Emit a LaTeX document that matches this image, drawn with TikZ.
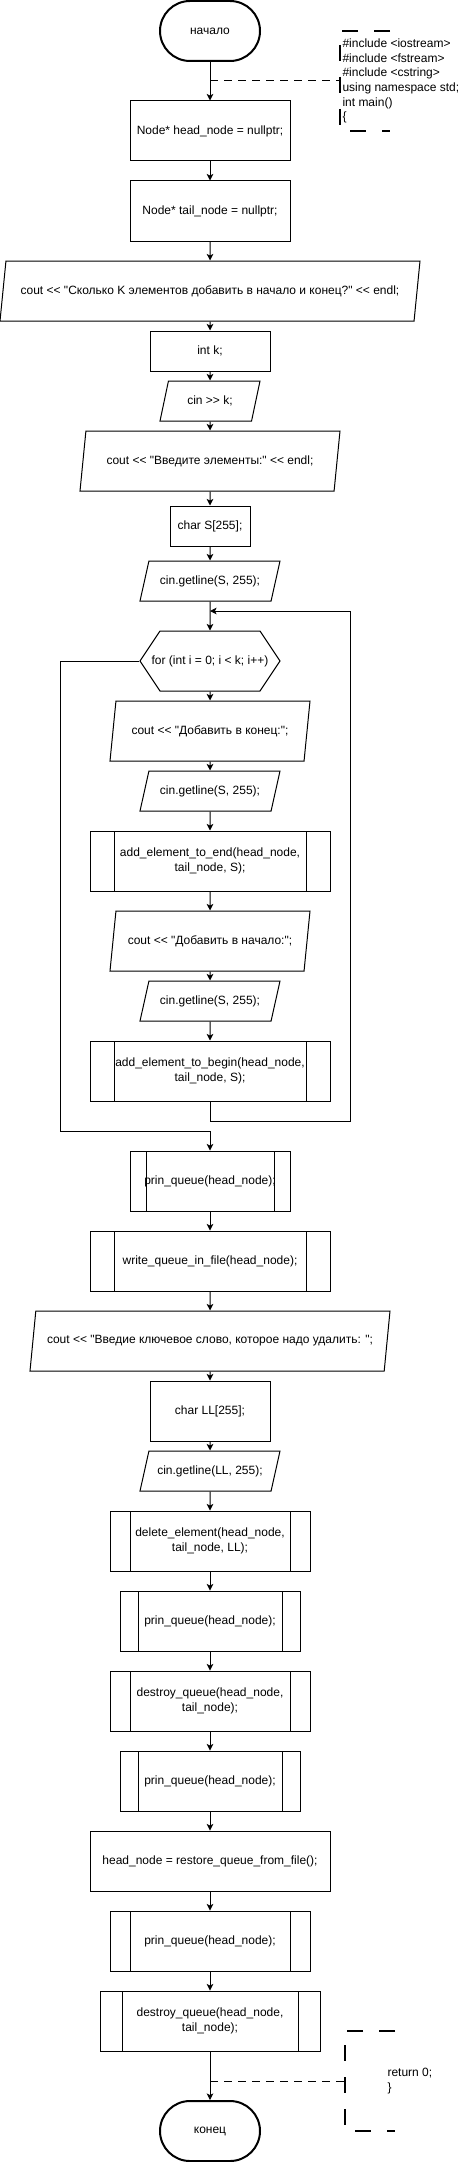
\documentclass[tikz,border=0pt]{standalone}
\usepackage{fontspec}
\setmainfont{Liberation Sans}[Ligatures=TeXOff]
\usetikzlibrary{arrows.meta,calc,shapes.geometric,shapes.symbols}

\begin{document}
\begin{tikzpicture}[x=1pt, y=-1pt, line width=1pt,
  font=\fontsize{12}{14.7}\selectfont, >={Stealth[length=6.5pt,width=6.5pt,inset=1.5pt]},
  term/.style={draw, line width=2pt, rounded corners=30pt, minimum width=100pt, minimum height=60pt},
  proc/.style={draw, minimum height=60pt, align=center, inner sep=1pt},
  sub/.style={proc, path picture={
    \draw ($(path picture bounding box.north west)!0.1!(path picture bounding box.north east)$) --
          ($(path picture bounding box.south west)!0.1!(path picture bounding box.south east)$)
          ($(path picture bounding box.north west)!0.9!(path picture bounding box.north east)$) --
          ($(path picture bounding box.south west)!0.9!(path picture bounding box.south east)$);}},
  io/.style={draw, trapezium, trapezium left angle=71.57, trapezium right angle=108.43,
    trapezium stretches body, minimum height=60pt, inner xsep=0pt, align=center},
  ios/.style={io, trapezium left angle=63.43, trapezium right angle=116.57, minimum height=40pt},
  hexa/.style={draw, signal, signal to=east and west, signal pointer angle=112.62,
    minimum width=140pt, minimum height=60pt, inner sep=0pt},
  note/.style={line width=2pt, dash pattern=on 16pt off 16pt},
  link/.style={dash pattern=on 8pt off 6pt},
  txt/.style={align=left, inner sep=1pt, anchor=west}]
\useasboundingbox (0,0) rectangle (460,2162);
% ---------------- start and declarations
\node[term] (start) at (210,31) {начало};
\node[proc, minimum width=160pt] (hn) at (210,131) {Node* head\_node = nullptr;};
\node[proc, minimum width=160pt] (tn) at (210,211) {Node* tail\_node = nullptr;};
\node[io, minimum width=420pt] (ask) at (210,291) {cout << "Сколько K элементов добавить в начало и конец?" << endl;};
\node[proc, minimum width=120pt, minimum height=40pt] (kvar) at (210,351) {int k;};
\node[ios, minimum width=100pt] (kin) at (210,401) {cin >> k;};
\node[io, minimum width=260pt] (ent) at (210,461) {cout << "Введите элементы:" << endl;};
\node[proc, minimum width=80pt, minimum height=40pt] (svar) at (210,526) {char S[255];};
\node[ios, minimum width=140pt] (gl1) at (210,581) {cin.getline(S, 255);};
% ---------------- loop
\node[hexa, label={center:for (int i = 0; i < k; i++)}] (loop) at (210,661) {};
\node[io, minimum width=200pt] (askend) at (210,731) {cout << "Добавить в конец:";};
\node[ios, minimum width=140pt] (gl2) at (210,791) {cin.getline(S, 255);};
\node[sub, minimum width=240pt] (adde) at (210,861) {add\_element\_to\_end(head\_node,\\tail\_node, S);};
\node[io, minimum width=200pt] (askbeg) at (210,941) {cout << "Добавить в начало:";};
\node[ios, minimum width=140pt] (gl3) at (210,1001) {cin.getline(S, 255);};
\node[sub, minimum width=240pt] (addb) at (210,1071) {add\_element\_to\_begin(head\_node,\\tail\_node, S);};
\coordinate (back) at (210,611);
\coordinate (backr) at (350,1121);
\coordinate (exitl) at (60,1131);
\draw[->] (addb.south) |- (backr) |- (back);
% ---------------- after the loop
\node[sub, minimum width=160pt] (pq1) at (210,1181) {prin\_queue(head\_node);};
\draw[->] (loop.west) -| (exitl) -| (pq1.north);
\node[sub, minimum width=240pt] (wq) at (210,1261) {write\_queue\_in\_file(head\_node);};
\node[io, minimum width=360pt] (askdel) at (210,1341) {cout << "Введие ключевое слово, которое надо удалить: ";};
\node[proc, minimum width=120pt] (llvar) at (210,1411) {char LL[255];};
\node[ios, minimum width=140pt] (gl4) at (210,1471) {cin.getline(LL, 255);};
\node[sub, minimum width=200pt] (del) at (210,1541) {delete\_element(head\_node,\\tail\_node, LL);};
\node[sub, minimum width=180pt] (pq2) at (210,1621) {prin\_queue(head\_node);};
\node[sub, minimum width=200pt] (dq1) at (210,1701) {destroy\_queue(head\_node,\\tail\_node);};
\node[sub, minimum width=180pt] (pq3) at (210,1781) {prin\_queue(head\_node);};
\node[proc, minimum width=240pt] (rq) at (210,1861) {head\_node = restore\_queue\_from\_file();};
\node[sub, minimum width=200pt] (pq4) at (210,1941) {prin\_queue(head\_node);};
\node[sub, minimum width=220pt] (dq2) at (210,2021) {destroy\_queue(head\_node,\\tail\_node);};
\node[term] (stop) at (210,2131) {конец};
\foreach \a/\b in {start/hn, hn/tn, tn/ask, ask/kvar, kvar/kin, kin/ent, ent/svar, svar/gl1,
  gl1/loop, loop/askend, askend/gl2, gl2/adde, adde/askbeg, askbeg/gl3, gl3/addb,
  pq1/wq, wq/askdel, askdel/llvar, llvar/gl4, gl4/del, del/pq2, pq2/dq1, dq1/pq3,
  pq3/rq, rq/pq4, pq4/dq2, dq2/stop}
  \draw[->] (\a.south) -- (\b.north);
% ---------------- comments
\node[txt] (inc) at (341,81) {\#include <iostream>\\\#include <fstream>\\\#include <cstring>\\using namespace std;\\int main()\\\{};
\coordinate (incin) at (210,81);
\coordinate (incbr) at (340,81);
\draw[link] (incin) -- (incbr);
\draw[note] (390,31) -| (340,131) -- (390,131);
\node[txt] (ret) at (386,2081) {return 0;\\\}};
\coordinate (retin) at (210,2081);
\coordinate (retbr) at (345,2081);
\draw[link] (retin) -- (retbr);
\draw[note] (395,2031) -| (345,2131) -- (395,2131);
\end{tikzpicture}
\end{document}
